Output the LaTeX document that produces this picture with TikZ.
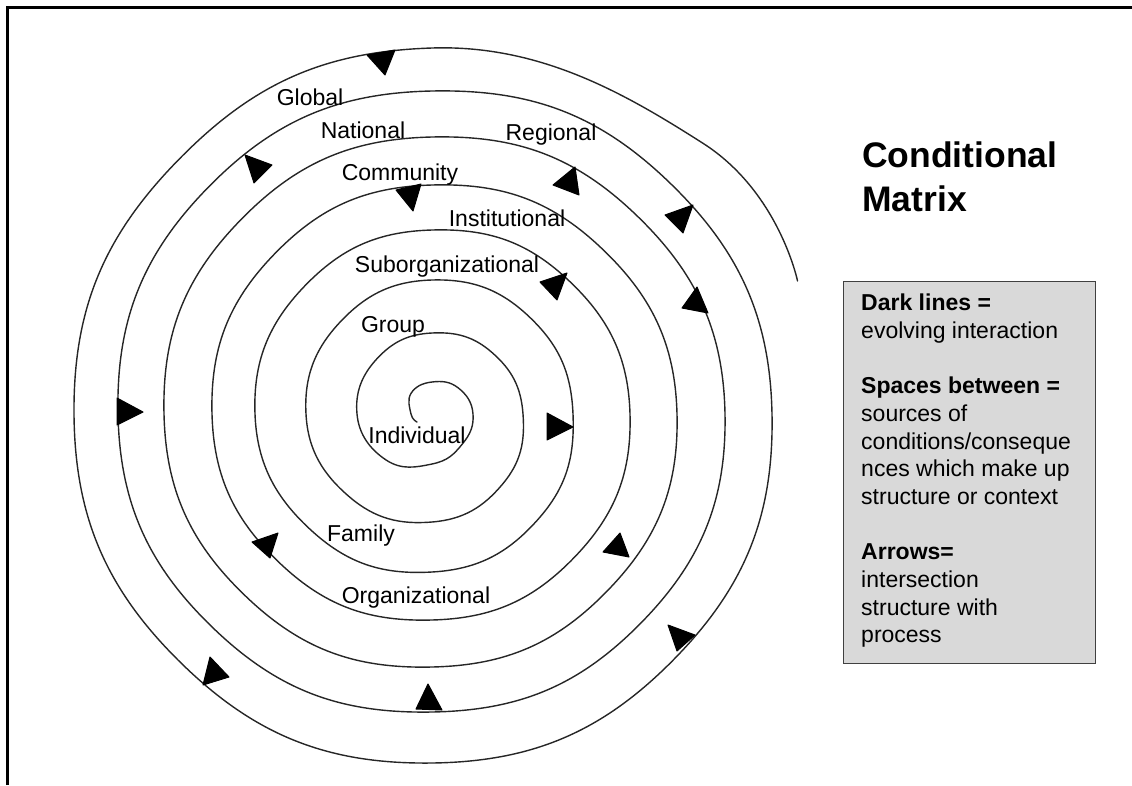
\documentclass[tikz,border=0pt]{standalone}
\usepackage{fontspec}
\setmainfont{Liberation Sans}
\begin{document}
\begin{tikzpicture}[x=1pt,y=-1pt,
  spiral/.style={draw=black!85, line width=1.4pt, line cap=round, line join=round},
  tri/.style={fill=black, draw=black, line width=1pt, line join=round},
  lbl/.style={font=\fontsize{23}{27}\selectfont, inner sep=0pt, anchor=base},
  boxtxt/.style={font=\fontsize{23}{27}\selectfont, inner sep=0pt, anchor=base west},
  boxbold/.style={boxtxt, font=\fontsize{23}{27}\selectfont\bfseries},
  ttl/.style={font=\fontsize{35.5}{43}\selectfont\bfseries, inner sep=0pt, anchor=base west},
  legend/.style={draw=black!75, fill=black!15, line width=1pt}]
\useasboundingbox (0,0) rectangle (1132,785);
% frame
\draw[line width=3pt] (7.5,785) -- (7.5,7.5) -- (1132,7.5);
% spiral (polar points every 45 degrees, clockwise on screen)
\draw[spiral, shift={(432,414)}] plot[smooth, tension=0.75] coordinates {
 (-208:17) (-180:21) (-135:29.5) (-90:32) (-45:37) (0:41) (45:42.7) (90:50) (135:65)
 (180:75) (225:78) (270:81) (315:86) (360:91) (405:99.5) (450:108) (495:117)
 (540:126) (585:130) (630:134) (675:137.5) (720:141) (765:149.5) (810:158) (855:167.5)
 (900:177) (945:180.5) (990:184) (1035:191) (1080:198) (1125:202) (1170:206) (1215:213)
 (1260:220) (1305:224.5) (1350:229) (1395:237) (1440:245) (1485:249) (1530:253) (1575:260.5)
 (1620:268) (1665:272.5) (1710:277) (1755:285) (1800:293) (1845:295.5) (1890:298) (1935:306)
 (1980:314) (2025:318.5) (2070:323) (2115:331.5) (2160:340) (2205:344.5) (2250:349) (2295:353.5)
 (2340:358) (2385:359) (2430:366) (2475:383) (2500:389)};
% arrowheads
\filldraw[tri] (367,55) -- (395,50) -- (385,75) -- cycle;
\filldraw[tri] (245,155) -- (272,165) -- (254,183) -- cycle;
\filldraw[tri] (396,190) -- (421,184) -- (413,211) -- cycle;
\filldraw[tri] (553,185) -- (575,167) -- (579,195) -- cycle;
\filldraw[tri] (665,215) -- (693,205) -- (683,233) -- cycle;
\filldraw[tri] (540,282) -- (567,273) -- (557,300) -- cycle;
\filldraw[tri] (697,287) -- (708,313) -- (682,308) -- cycle;
\filldraw[tri] (117,398) -- (143,412) -- (117,425) -- cycle;
\filldraw[tri] (547,413) -- (573,427) -- (547,440) -- cycle;
\filldraw[tri] (252,542) -- (278,533) -- (270,558) -- cycle;
\filldraw[tri] (603,552) -- (620,533) -- (629,557) -- cycle;
\filldraw[tri] (203,685) -- (210,657) -- (229,677) -- cycle;
\filldraw[tri] (416,709) -- (428,684) -- (442,710) -- cycle;
\filldraw[tri] (668,625) -- (695,635) -- (677,651) -- cycle;
% spiral labels
\node[lbl] (global) at (310,105) {Global};
\node[lbl] (national) at (363,138) {National};
\node[lbl] (regional) at (551,140) {Regional};
\node[lbl] (community) at (400,180) {Community};
\node[lbl] (institutional) at (507,226) {Institutional};
\node[lbl] (suborg) at (447,272) {Suborganizational};
\node[lbl] (group) at (393,332) {Group};
\node[lbl] (individual) at (417,443) {Individual};
\node[lbl] (family) at (361,541) {Family};
\node[lbl] (organizational) at (416,603) {Organizational};
% title
\node[ttl] (title1) at (862,167) {Conditional};
\node[ttl] (title2) at (862,211) {Matrix};
% legend box
\draw[legend] (843,281) rectangle (1095,663);
\node[boxbold] (l1) at (861,310.5) {Dark lines =};
\node[boxtxt] (l2) at (861,338.2) {evolving interaction};
\node[boxbold] (l3) at (861,393.6) {Spaces between =};
\node[boxtxt] (l4) at (861,421.3) {sources of};
\node[boxtxt] (l5) at (861,449) {conditions/conseque};
\node[boxtxt] (l6) at (861,476.7) {nces which make up};
\node[boxtxt] (l7) at (861,504.4) {structure or context};
\node[boxbold] (l8) at (861,559.8) {Arrows=};
\node[boxtxt] (l9) at (861,587.5) {intersection};
\node[boxtxt] (l10) at (861,615.2) {structure with};
\node[boxtxt] (l11) at (861,642.9) {process};
\end{tikzpicture}
\end{document}
